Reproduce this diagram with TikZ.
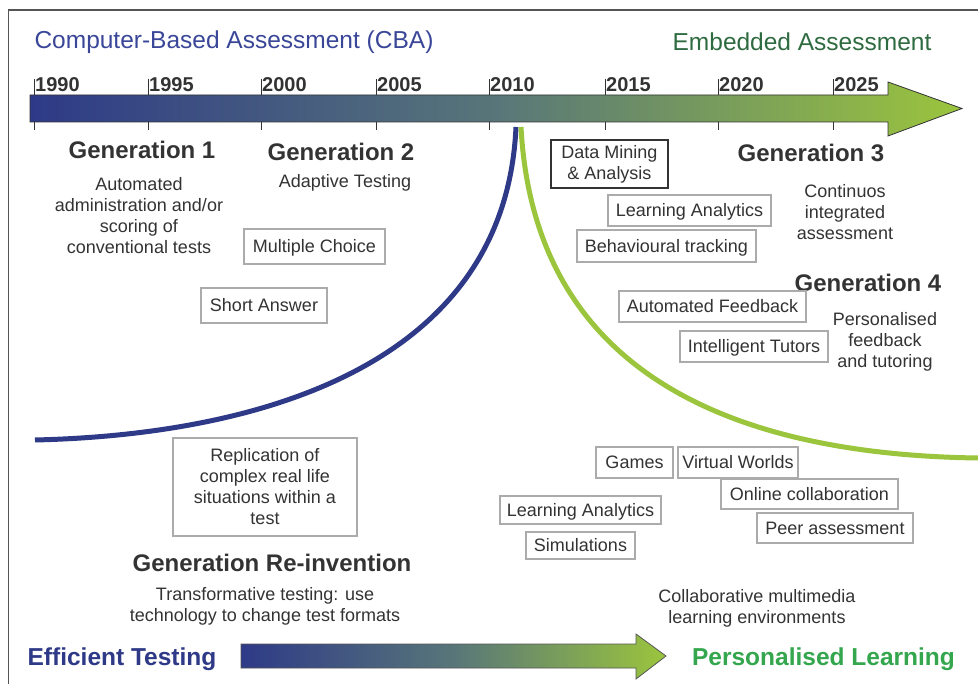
\documentclass[tikz,border=0pt]{standalone}
\usepackage{fontspec}
\setmainfont{Liberation Sans}
\definecolor{txt}{HTML}{333333}
\definecolor{cbablue}{HTML}{2E3A87}
\definecolor{cbatitle}{HTML}{3A4799}
\definecolor{embgreen}{HTML}{2F6B40}
\definecolor{plgreen}{HTML}{34A64E}
\definecolor{curvegreen}{HTML}{9BC53D}
\definecolor{arrowmid}{HTML}{587679}
\definecolor{boxgray}{HTML}{ABABAB}
\definecolor{framegray}{HTML}{555555}
\begin{document}
\begin{tikzpicture}[x=1pt,y=-1pt,
  tbox/.style={draw=boxgray,line width=1.3pt,fill=white,text=txt,inner sep=0pt,align=center,
    font=\fontsize{18}{21}\selectfont},
  oneline/.style={text height=13.9pt,text depth=1pt},
  gentitle/.style={text=txt,inner sep=0pt,font=\fontsize{24}{28}\selectfont\bfseries},
  desc/.style={text=txt,inner sep=0pt,align=center,font=\fontsize{18}{21}\selectfont},
  yearlbl/.style={text=txt,inner sep=0pt,anchor=base west,font=\fontsize{20}{24}\selectfont\bfseries},
  tick/.style={draw=txt,line width=0.8pt},
  bigtitle/.style={inner sep=0pt,font=\fontsize{24.5}{28}\selectfont},
  bottomtitle/.style={inner sep=0pt,font=\fontsize{24.5}{28}\selectfont\bfseries}
]
\useasboundingbox (0,0) rectangle (978,684);
\fill[white] (0,0) rectangle (978,684);
% frame
\draw[framegray,line width=1.5pt] (8.5,684) -- (8.5,10) -- (978,10);

% titles
\node[bigtitle,text=cbatitle] (cba) at (234,42) {Computer-Based Assessment (CBA)};
\node[bigtitle,text=embgreen] (emb) at (802,42) {Embedded Assessment};

% main timeline arrow
\shade[left color=cbablue,right color=curvegreen,middle color=arrowmid]
  (30,95) -- (888,95) -- (888,82) -- (962,108.5) -- (888,136) -- (888,122) -- (30,122) -- cycle;
\draw[draw=txt,line width=0.8pt]
  (30,95) -- (888,95) -- (888,82) -- (962,108.5) -- (888,136) -- (888,122) -- (30,122) -- cycle;

% ticks and years
\foreach \xx/\yr in {34/1990,148/1995,261/2000,376/2005,489/2010,605/2015,718/2020,833/2025}{
  \draw[tick] (\xx,79) -- (\xx,95);
  \draw[tick] (\xx,122) -- (\xx,130);
  \node[yearlbl] (y\yr) at (\xx+1,92) {\yr};
}

% curves
\draw[cbablue,line width=5pt] (516,127) .. controls (505,370) and (250,435) .. (35,440);
\draw[curvegreen,line width=5pt] (521,127) .. controls (535,390) and (760,455) .. (978,458);

% generation 1
\node[gentitle] (g1) at (142,150) {Generation 1};
\node[desc] (g1d) at (139,216) {Automated\\administration and/or\\scoring of\\conventional tests};
% generation 2
\node[gentitle] (g2) at (341,152) {Generation 2};
\node[desc] (g2d) at (345,183) {Adaptive Testing};
\node[tbox,oneline,minimum width=141pt,minimum height=35pt] (mc) at (314.5,246.5) {Multiple Choice};
\node[tbox,oneline,minimum width=126pt,minimum height=35pt] (sa) at (264,305.5) {Short Answer};

% generation 3
\node[tbox,draw=txt,minimum width=117pt,minimum height=48pt] (dm) at (609.5,164) {Data Mining\\\& Analysis};
\node[gentitle] (g3) at (811,153) {Generation 3};
\node[desc] (g3d) at (845,212) {Continuos\\integrated\\assessment};
\node[tbox,oneline,minimum width=163pt,minimum height=31pt] (la1) at (689.5,210.5) {Learning Analytics};
\node[tbox,oneline,minimum width=179pt,minimum height=32pt] (bt) at (666.5,246) {Behavioural tracking};

% generation 4
\node[gentitle] (g4) at (868,283) {Generation 4};
\node[desc] (g4d) at (885,342) {Personalised\\feedback\\and tutoring};
\node[tbox,oneline,minimum width=187pt,minimum height=31pt] (af) at (712.5,306.5) {Automated Feedback};
\node[tbox,oneline,minimum width=148pt,minimum height=31pt] (it) at (754,346.5) {Intelligent Tutors};

% re-invention
\node[tbox,minimum width=184pt,minimum height=98pt] (rep) at (265,487) {Replication of\\complex real life\\situations within a\\test};
\node[gentitle] (gr) at (272,563) {Generation Re-invention};
\node[desc] (grd) at (265,606) {Transformative testing: use\\technology to change test formats};

\node[tbox,oneline,minimum width=77pt,minimum height=31pt] (games) at (634.5,462.5) {Games};
\node[tbox,oneline,minimum width=120pt,minimum height=31pt] (vw) at (738,462.5) {Virtual Worlds};
\node[tbox,oneline,minimum width=177pt,minimum height=30pt] (oc) at (809.5,494) {Online collaboration};
\node[tbox,oneline,minimum width=156pt,minimum height=30pt] (pa) at (835,528) {Peer assessment};
\node[tbox,oneline,minimum width=161pt,minimum height=28pt] (la2) at (580.5,510) {Learning Analytics};
\node[tbox,oneline,minimum width=109pt,minimum height=27pt] (sim) at (580.5,545.5) {Simulations};
\node[desc] (cm) at (757,608) {Collaborative multimedia\\learning environments};

% bottom arrow
\node[bottomtitle,text=cbablue] (et) at (122,659) {Efficient Testing};
\node[bottomtitle,text=plgreen] (pl) at (823.5,659) {Personalised Learning};
\shade[left color=cbablue,right color=curvegreen,middle color=arrowmid]
  (241,644) -- (636,644) -- (636,634) -- (666,656) -- (636,679) -- (636,668) -- (241,668) -- cycle;
\draw[draw=framegray,line width=0.8pt]
  (241,644) -- (636,644) -- (636,634) -- (666,656) -- (636,679) -- (636,668) -- (241,668) -- cycle;
\end{tikzpicture}
\end{document}
